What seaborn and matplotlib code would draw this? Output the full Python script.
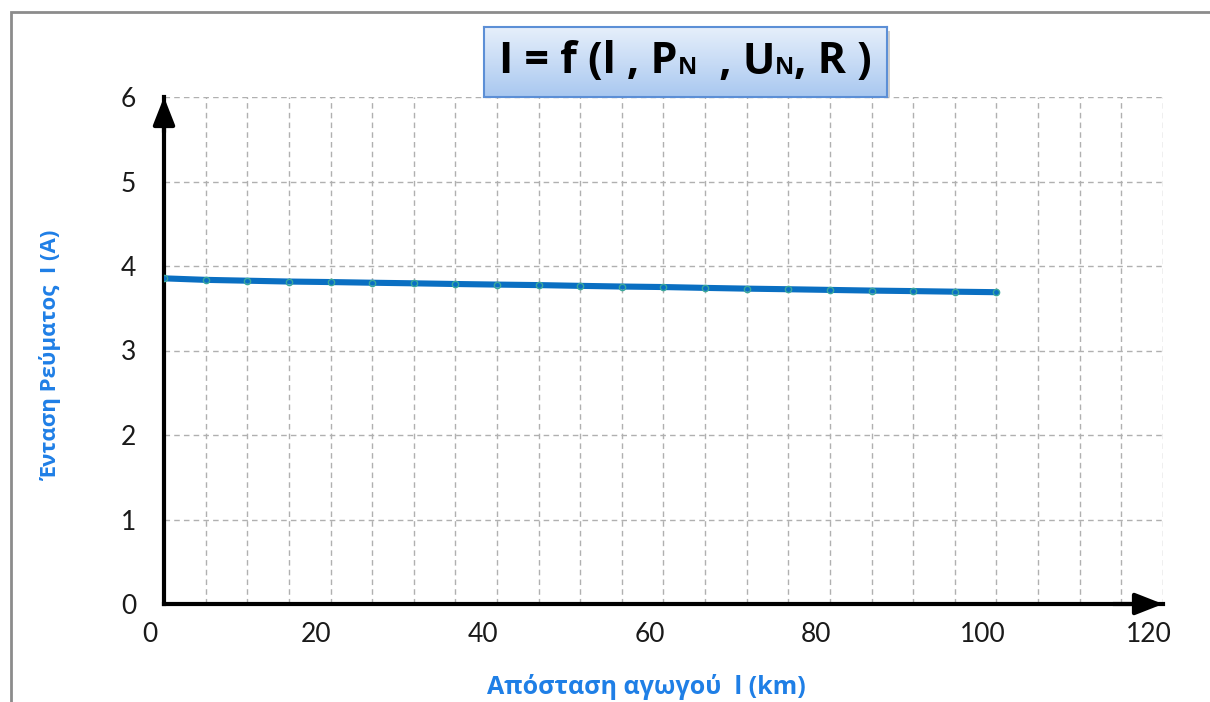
import numpy as np
import pandas as pd
import matplotlib
matplotlib.use("Agg")
import matplotlib.pyplot as plt
import matplotlib.transforms as mtransforms
import seaborn as sns
from matplotlib.patches import Rectangle
from matplotlib.offsetbox import TextArea, HPacker, AnchoredOffsetbox

# line length (km) and current (A)
length_km = [0, 5, 10, 15, 20, 25, 30, 35, 40, 45, 50,
             55, 60, 65, 70, 75, 80, 85, 90, 95, 100]
current_a = [3.854, 3.836, 3.826, 3.816, 3.810, 3.802, 3.795, 3.787, 3.780, 3.774, 3.765,
             3.757, 3.751, 3.741, 3.732, 3.725, 3.717, 3.709, 3.703, 3.696, 3.690]

x_ticks = [0, 20, 40, 60, 80, 100, 120]
y_ticks = [0, 1, 2, 3, 4, 5, 6]

title_parts = [("I = f (l , P", 31), ("N", 17), ("  , U", 31), ("N", 17), (", R )", 31)]
x_label = "Απόσταση αγωγού  l (km)"
y_label = "Ένταση Ρεύματος  I (A)"

df = pd.DataFrame({"l": length_km, "I": current_a})

sns.set_theme(style="white")
plt.rcParams["font.family"] = ["Lato", "Open Sans", "DejaVu Sans"]

W, H = 1210, 702
fig = plt.figure(figsize=(W / 100, H / 100), dpi=100)
ax = fig.add_axes([164 / W, 1 - 604 / H, (1163 - 164) / W, (604 - 97) / H])

# outer chart frame
fig.patches.append(Rectangle((11 / W, -0.05), 1.1, 1 - 12 / H + 0.05,
                             transform=fig.transFigure, fill=False,
                             edgecolor="#8c8c8c", linewidth=2, zorder=-2))

sns.lineplot(data=df, x="l", y="I", ax=ax, color="#0a6fc2", linewidth=4.4,
             marker="o", markersize=4.5, markerfacecolor="none",
             markeredgecolor="#3aa89a", markeredgewidth=1.0, zorder=5)

ax.set_xlim(0, 120)
ax.set_ylim(0, 6)
ax.set_xticks(x_ticks)
ax.set_yticks(y_ticks)
ax.set_xticks(np.arange(0, 121, 5), minor=True)
ax.tick_params(axis="both", which="major", length=8, width=2.2, color="black",
               labelsize=19, labelcolor="#1a1a1a", direction="out")
ax.tick_params(axis="x", which="major", pad=5)
ax.tick_params(axis="y", which="major", pad=12)
ax.tick_params(axis="x", which="minor", length=0)

# x labels sit a little left of their ticks
shift = mtransforms.ScaledTranslation(-14 / 100, 0, fig.dpi_scale_trans)
for lbl in ax.get_xticklabels():
    lbl.set_transform(lbl.get_transform() + shift)

ax.grid(True, which="major", axis="y", linestyle=(0, (4, 3)), color="#b0b0b0", linewidth=1)
ax.grid(True, which="both", axis="x", linestyle=(0, (4, 3)), color="#b0b0b0", linewidth=1)
ax.set_axisbelow(True)

for side in ("top", "right"):
    ax.spines[side].set_visible(False)
for side in ("left", "bottom"):
    ax.spines[side].set_color("black")
    ax.spines[side].set_linewidth(3)

# arrowheads at the ends of the axes
ax.annotate("", xy=(0, 1.0), xycoords="axes fraction", xytext=(0, 0.93),
            arrowprops=dict(arrowstyle="-|>,head_length=1.4,head_width=0.55",
                            color="black", lw=3, shrinkA=0, shrinkB=0))
ax.annotate("", xy=(1.0, 0), xycoords="axes fraction", xytext=(0.95, 0),
            arrowprops=dict(arrowstyle="-|>,head_length=1.4,head_width=0.55",
                            color="black", lw=3, shrinkA=0, shrinkB=0))

lab_font = dict(family=["Open Sans", "DejaVu Sans"], fontweight="bold",
                color="#1f7fe6")
ax.set_xlabel(x_label, fontsize=18, **lab_font)
ax.set_ylabel(y_label, fontsize=16, **lab_font)
ax.xaxis.set_label_coords(0.483, -0.138)
ax.yaxis.set_label_coords(-0.102, 0.49)

# title box with a vertical blue gradient and a soft drop shadow
bx0, by0, bx1, by1 = 484, 27, 887, 97
fig.patches.append(Rectangle(((bx0 + 3) / W, 1 - (by1 + 4) / H), (bx1 - bx0) / W, (by1 - by0) / H,
                             transform=fig.transFigure, facecolor="#cfcfcf",
                             edgecolor="none", zorder=-1))
tax = fig.add_axes([bx0 / W, 1 - by1 / H, (bx1 - bx0) / W, (by1 - by0) / H])
tax.set_zorder(10)
grad = np.linspace(0, 1, 100).reshape(-1, 1)
cmap = matplotlib.colors.LinearSegmentedColormap.from_list("tb", ["#e6effb", "#a9c8f0"])
tax.imshow(grad, aspect="auto", cmap=cmap, extent=[0, 1, 0, 1], origin="upper")
tax.set_xlim(0, 1)
tax.set_ylim(0, 1)
tax.set_xticks([])
tax.set_yticks([])
for s in tax.spines.values():
    s.set_color("#5c8fd6")
    s.set_linewidth(1.5)

areas = [TextArea(t, textprops=dict(fontsize=s, fontweight="bold", color="black",
                                     family=["Open Sans", "DejaVu Sans"]))
         for t, s in title_parts]
pack = HPacker(children=areas, align="baseline", pad=0, sep=0)
anch = AnchoredOffsetbox(loc="center", child=pack, frameon=False,
                         bbox_to_anchor=(0.5, 0.5), bbox_transform=tax.transAxes,
                         borderpad=0, pad=0)
tax.add_artist(anch)

fig.savefig("out.png", dpi=100)
